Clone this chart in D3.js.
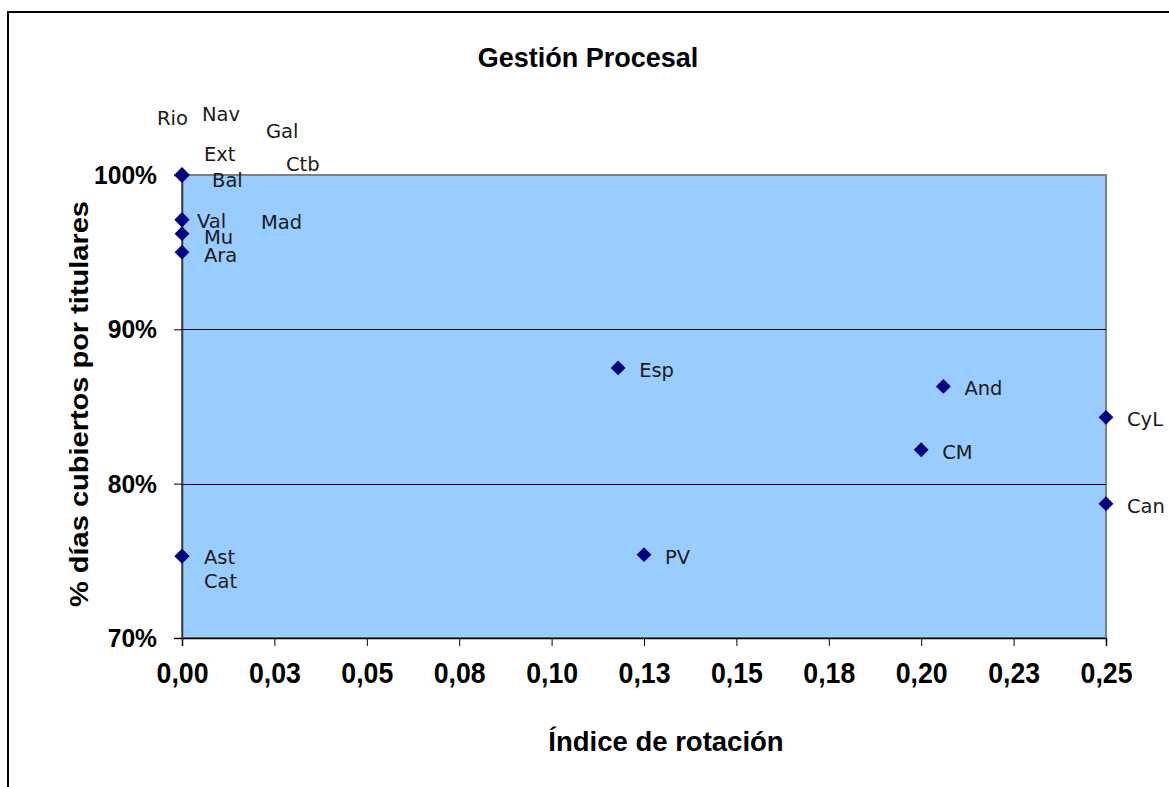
<!DOCTYPE html>
<html>
<head>
<meta charset="utf-8">
<script src="https://cdn.jsdelivr.net/npm/d3@7"></script>
<style>
  html, body { margin: 0; padding: 0; background: #fff; }
  svg { display: block; }
</style>
</head>
<body>
<script>
// ---- data ----
const regions = ["Rio","Nav","Gal","Ext","Ctb","Bal","Val","Mad","Mu","Ara","Ast","Cat","Esp","And","CM","CyL","Can","PV"];
const rotation = [0,0,0,0,0,0,0,0,0,0,0,0,0.118,0.206,0.200,0.250,0.250,0.125];
const coverage = [1.00,1.00,1.00,1.00,1.00,1.00,0.971,0.971,0.962,0.950,0.753,0.753,0.875,0.863,0.822,0.843,0.787,0.754];
const xTicks = [0,0.025,0.05,0.075,0.1,0.125,0.15,0.175,0.2,0.225,0.25];
const yTicks = [0.7,0.8,0.9,1.0];
const gridValues = [0.8,0.9];
const title = "Gestión Procesal";
const xTitle = "Índice de rotación";
const yTitle = "% días cubiertos por titulares";

// ---- label nudges (layout, px) ----
const defaultNudge = [21, 9];
const labelNudge = {
  Rio: [-25,-50], Nav: [20,-54], Gal: [84,-37], Ext: [22,-14], Ctb: [104,-4], Bal: [30,12],
  Val: [15,8], Mad: [79,9], Mu: [22,10], Ara: [22,10], Ast: [22,8], Cat: [22,32]
};

const W = 1169, H = 787;
const plot = {left: 182, right: 1106, top: 175, bottom: 638};

const svg = d3.select("body").append("svg").attr("width", W).attr("height", H);

// outer frame
svg.append("rect").attr("x", 8).attr("y", 12).attr("width", W + 20).attr("height", H + 20)
  .attr("fill", "#fff").attr("stroke", "#000").attr("stroke-width", 2);

const x = d3.scaleLinear().domain([0, 0.25]).range([plot.left, plot.right]);
const y = d3.scaleLinear().domain([0.7, 1.0]).range([plot.bottom, plot.top]);

// plot area
svg.append("rect").attr("x", plot.left).attr("y", plot.top)
  .attr("width", plot.right - plot.left).attr("height", plot.bottom - plot.top)
  .attr("fill", "#99ccff").attr("stroke", "#808080").attr("stroke-width", 2);

// gridlines
svg.append("g").selectAll("line").data(gridValues).join("line")
  .attr("x1", plot.left).attr("x2", plot.right)
  .attr("y1", d => Math.round(y(d)) + 0.5).attr("y2", d => Math.round(y(d)) + 0.5)
  .attr("stroke", "#000").attr("stroke-width", 1);

// axes
const fmtX = v => d3.format(".2f")(v + 1e-9).replace(".", ",");
const xAxis = svg.append("g").attr("transform", `translate(0,${plot.bottom})`)
  .call(d3.axisBottom(x).tickValues(xTicks).tickSize(8).tickPadding(0).tickFormat(fmtX));
xAxis.select(".domain").attr("stroke", "#000").attr("stroke-width", 1.5);
xAxis.selectAll(".tick line").attr("stroke", "#000");
xAxis.selectAll(".tick text")
  .attr("font-family", "'Liberation Sans', Arial, sans-serif")
  .attr("font-weight", "bold").attr("font-size", 30).attr("fill", "#000")
  .attr("dy", null).attr("y", 45)
  .attr("transform", "scale(0.89,1)");

const yAxis = svg.append("g").attr("transform", `translate(${plot.left},0)`)
  .call(d3.axisLeft(y).tickValues(yTicks).tickSize(8).tickPadding(0).tickFormat(d3.format(".0%")));
yAxis.select(".domain").attr("stroke", "#333").attr("stroke-width", 1.5);
yAxis.selectAll(".tick line").attr("stroke", "#000");
yAxis.selectAll(".tick text")
  .attr("font-family", "'Liberation Sans', Arial, sans-serif")
  .attr("font-weight", "bold").attr("font-size", 26.5).attr("fill", "#000")
  .attr("x", null)
  .attr("transform", "translate(-25,0) scale(0.93,1)");

// points
const pts = regions.map((r, i) => ({name: r, x: rotation[i], y: coverage[i]}));
const diamond = d3.symbol().type(d3.symbolSquare).size(110);
svg.append("g").selectAll("path").data(pts).join("path")
  .attr("d", diamond)
  .attr("transform", d => `translate(${x(d.x)},${y(d.y)}) rotate(45)`)
  .attr("fill", "#000080");

// point labels
svg.append("g").selectAll("text").data(pts).join("text")
  .attr("x", d => x(d.x) + (labelNudge[d.name] || defaultNudge)[0])
  .attr("y", d => y(d.y) + (labelNudge[d.name] || defaultNudge)[1])
  .attr("font-family", "'DejaVu Sans', Verdana, sans-serif")
  .attr("font-size", 19.5).attr("fill", "#1a1a1a")
  .text(d => d.name);

// titles
svg.append("text").attr("x", 588).attr("y", 67).attr("text-anchor", "middle")
  .attr("font-family", "'Liberation Sans', Arial, sans-serif").attr("font-weight", "bold")
  .attr("font-size", 27).attr("fill", "#000").text(title);

svg.append("text").attr("x", 666).attr("y", 751).attr("text-anchor", "middle")
  .attr("font-family", "'Liberation Sans', Arial, sans-serif").attr("font-weight", "bold")
  .attr("font-size", 27.5).attr("fill", "#000").text(xTitle);

svg.append("text").attr("transform", "translate(88,404) rotate(-90) scale(1.16,1)").attr("text-anchor", "middle")
  .attr("font-family", "'Liberation Sans', Arial, sans-serif").attr("font-weight", "bold")
  .attr("font-size", 25).attr("fill", "#000").text(yTitle);
</script>
</body>
</html>
